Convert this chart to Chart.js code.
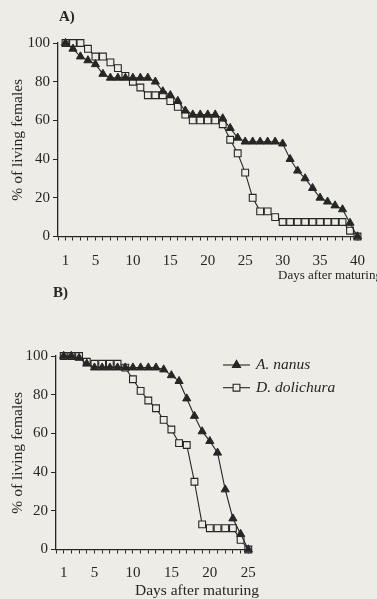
<!DOCTYPE html>
<html><head><meta charset="utf-8">
<script src="https://cdn.jsdelivr.net/npm/chart.js@4.4.1/dist/chart.umd.min.js"></script>
<style>
html,body{margin:0;padding:0;background:#edece7;}
#wrap{position:relative;width:377px;height:599px;overflow:hidden;background:#edece7;}
canvas{position:absolute;left:0;}
#ca{top:0;width:377px;height:290px;}
#cb{top:280px;width:377px;height:319px;}
</style></head><body>
<div id="wrap"><canvas id="ca" width="377" height="290"></canvas><canvas id="cb" width="377" height="319"></canvas></div>
<script>
// ---- data ----
const daysA = [1,2,3,4,5,6,7,8,9,10,11,12,13,14,15,16,17,18,19,20,21,22,23,24,25,26,27,28,29,30,31,32,33,34,35,36,37,38,39,40];
const nanusA = [100,97,93,91,89,84,82,82,82,82,82,82,80,75,73,70,65,63,63,63,63,61,56,51,49,49,49,49,49,48,40,34,30,25,20,18,16,14,7,0];
const dolichuraA = [100,100,100,97,93,93,90,87,83,80,77,73,73,73,70,67,63,60,60,60,60,58,50,43,33,20,13,13,10,7.5,7.5,7.5,7.5,7.5,7.5,7.5,7.5,7.5,3,0];
const daysB = [1,2,3,4,5,6,7,8,9,10,11,12,13,14,15,16,17,18,19,20,21,22,23,24,25];
const nanusB = [100,100,99,96,94,94,94,94,94,94,94,94,94,93,90,87,78,69,61,56,50,31,16,8,0];
const dolichuraB = [100,100,100,97,96,96,96,96,94,88,82,77,73,67,62,55,54,35,13,11,11,11,11,5,0];
const yTicks = [0,20,40,60,80,100];
const xLabelDays = [1,5,10,15,20,25,30,35,40];
const seriesNames = ['A. nanus','D. dolichura'];
const yTitle = '% of living females';
const xTitle = 'Days after maturing';
const panelNames = ['A)','B)'];

// ---- styles ----
const INK = '#262626';
const PAPER = '#edece7';
const SERIF = "'Liberation Serif','Times New Roman',serif";

function pts(days, vals){ return days.map((d,i)=>({x:d, y:vals[i]})); }

function drawMarker(ctx, style, x, y, r){
  ctx.beginPath();
  if (style === 'triangle'){
    for (let k=0;k<3;k++){
      const a = k*2*Math.PI/3;
      const px = x + Math.sin(a)*r, py = y - Math.cos(a)*r;
      k===0 ? ctx.moveTo(px,py) : ctx.lineTo(px,py);
    }
    ctx.closePath();
  } else {
    const s = r/Math.SQRT2;
    ctx.rect(x-s, y-s, 2*s, 2*s);
  }
  ctx.fill(); ctx.stroke();
}

const extras = {
  id: 'extras',
  afterDraw(chart, args, o){
    const ctx = chart.ctx;
    ctx.save();
    ctx.fillStyle = INK;
    ctx.textAlign = 'left';
    ctx.textBaseline = 'alphabetic';
    ctx.font = 'bold ' + o.panelSize + 'px ' + SERIF;
    ctx.fillText(o.panel, o.panelX, o.panelY);
    ctx.font = o.titleSize + 'px ' + SERIF;
    ctx.fillText(o.xTitle, o.xTitleX, o.xTitleY);
    if (o.legend){
      chart.data.datasets.forEach((ds,i)=>{
        const y = o.legendY + i*o.legendGap;
        ctx.strokeStyle = INK; ctx.lineWidth = 1.1;
        ctx.beginPath(); ctx.moveTo(o.legendX1, y); ctx.lineTo(o.legendX2, y); ctx.stroke();
        ctx.fillStyle = ds.pointBackgroundColor;
        ctx.strokeStyle = ds.pointBorderColor;
        drawMarker(ctx, ds.pointStyle, (o.legendX1+o.legendX2)/2, y, ds.pointRadius);
        ctx.fillStyle = INK;
        ctx.font = 'italic ' + o.legendSize + 'px ' + SERIF;
        ctx.textBaseline = 'middle';
        ctx.fillText(ds.label, o.legendTextX, y);
        ctx.textBaseline = 'alphabetic';
      });
    }
    ctx.restore();
  }
};

function makeChart(id, days, nanus, doli, xmax, cfg){
  return new Chart(document.getElementById(id), {
    type: 'line',
    data: {
      datasets: [
        { label: seriesNames[0], data: pts(days, nanus), borderColor: INK, backgroundColor: INK,
          borderWidth: 1.1, pointStyle: 'triangle', pointRadius: 4.7, pointBackgroundColor: INK,
          pointBorderColor: INK, pointBorderWidth: 1, tension: 0, clip: false },
        { label: seriesNames[1], data: pts(days, doli), borderColor: INK, backgroundColor: PAPER,
          borderWidth: 1.1, pointStyle: 'rect', pointRadius: 4.8, pointBackgroundColor: PAPER,
          pointBorderColor: INK, pointBorderWidth: 1.1, tension: 0, clip: false }
      ]
    },
    options: {
      responsive: false, animation: false, devicePixelRatio: 1,
      layout: { padding: { left: 0, right: cfg.padRight, top: cfg.padTop, bottom: 0 } },
      plugins: { legend: { display: false }, tooltip: { enabled: false }, extras: cfg.extras },
      scales: {
        x: {
          type: 'linear', min: 0, max: xmax,
          afterBuildTicks: s => { const t=[]; for (let d=0; d<=xmax; d++) t.push({value:d}); s.ticks = t; },
          afterFit: s => { s.height = cfg.xHeight; },
          ticks: { autoSkip: false, maxRotation: 0, padding: cfg.xPad, color: INK,
            font: { family: SERIF, size: 15 },
            callback: v => xLabelDays.includes(v) ? String(v) : '' },
          grid: { drawOnChartArea: false, drawTicks: true, tickLength: 4, color: INK, lineWidth: 1 },
          border: { display: true, color: INK, width: 1.3 }
        },
        y: {
          type: 'linear', min: 0, max: 100,
          afterBuildTicks: s => { s.ticks = yTicks.map(v=>({value:v})); },
          afterFit: s => { s.width = cfg.yWidth; },
          ticks: { padding: 3, color: INK, font: { family: SERIF, size: 15 } },
          grid: { drawOnChartArea: false, drawTicks: true, tickLength: 5, color: INK, lineWidth: 1 },
          border: { display: true, color: INK, width: 1.3 },
          title: { display: true, text: yTitle, color: INK, font: { family: SERIF, size: 15.5 },
            padding: { top: 8.5, bottom: 0 } }
        }
      }
    },
    plugins: [extras]
  });
}

makeChart('ca', daysA, nanusA, dolichuraA, 40, {
  padRight: 16, padTop: 43, xHeight: 53.5, yWidth: 58, xPad: 12,
  extras: { panel: panelNames[0], panelX: 59, panelY: 21, panelSize: 15,
    xTitle: xTitle, xTitleX: 278, xTitleY: 279, titleSize: 13, legend: false }
});

makeChart('cb', daysB, nanusB, dolichuraB, 25, {
  padRight: 128.7, padTop: 76, xHeight: 49.5, yWidth: 56, xPad: 11,
  extras: { panel: panelNames[1], panelX: 53, panelY: 17, panelSize: 15,
    xTitle: xTitle, xTitleX: 135, xTitleY: 315, titleSize: 15.5, legend: true,
    legendY: 85, legendGap: 22.7, legendX1: 223, legendX2: 250, legendTextX: 256, legendSize: 15.5 }
});
</script>
</body></html>
